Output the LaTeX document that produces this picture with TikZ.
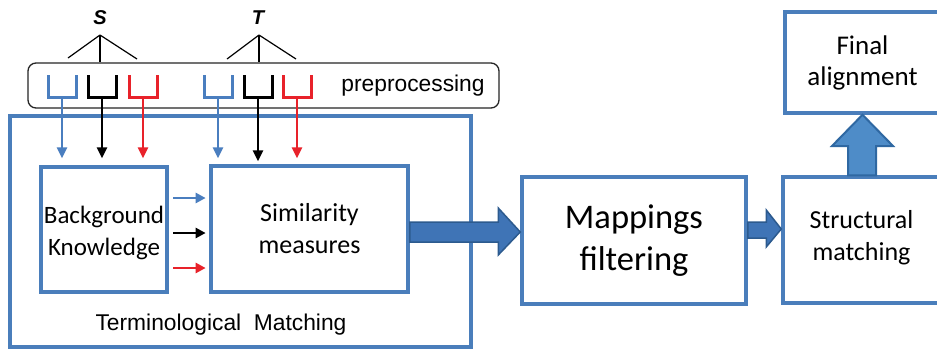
\documentclass[tikz,border=0pt]{standalone}
\usepackage{fontspec}
\setmainfont{Carlito}
\newfontfamily\arialf{Liberation Sans}
\usetikzlibrary{arrows.meta,calc}
\definecolor{boxblue}{HTML}{4A7EBB}
\definecolor{lblue}{HTML}{4A7EBF}
\definecolor{lred}{HTML}{E8222A}
\definecolor{afill}{HTML}{3F74B6}
\definecolor{aedge}{HTML}{2C5A8E}
\definecolor{ufill}{HTML}{4E8CC8}
\definecolor{uedge}{HTML}{2F68A2}
\begin{document}
\begin{tikzpicture}[x=1pt,y=-1pt,
  box/.style={draw=boxblue,line width=3.5pt,rectangle,inner sep=0pt,align=center},
  forkline/.style={line width=3pt},
  feed/.style={line width=2.6pt,-{Triangle[length=11pt,width=10pt]}},
  side/.style={line width=2.5pt,-{Triangle[length=10pt,width=10pt]}},
  bigarrow/.style={fill=afill,draw=aedge,line width=1.5pt,line join=miter},
  uparrow/.style={fill=ufill,draw=uedge,line width=2pt,line join=miter},
  tree/.style={line width=1.2pt},
  arialtxt/.style={font=\arialf\fontsize{22.8}{27}\selectfont,inner sep=0pt}
]
\clip (0,0) rectangle (937,349);
\fill[white] (0,0) rectangle (937,349);

% labels S and T with trees
\node[anchor=base,font=\arialf\bfseries\itshape\fontsize{20}{24}\selectfont,inner sep=0pt] (S) at (100,24) {S};
\node[anchor=base,font=\arialf\bfseries\itshape\fontsize{20}{24}\selectfont,inner sep=0pt] (T) at (258,24) {T};

% preprocessing box
\node[draw=black!85,line width=1.3pt,rounded corners=8pt,minimum width=471pt,minimum height=45pt,inner sep=0pt] (pp) at (263.5,85.5) {};
\node[arialtxt,anchor=base] (pptext) at (413,91) {preprocessing};

\coordinate (Sa) at (100,35);
\coordinate (Ta) at (259,35);
\draw[tree] (Sa) -- (68,58);
\draw[tree] (Sa) -- (Sa |- pp.north);
\draw[tree] (Sa) -- (137,59);
\draw[tree] (Ta) -- (227,59);
\draw[tree] (Ta) -- (Ta |- pp.north);
\draw[tree] (Ta) -- (296,59);

% terminological matching
\node[box,minimum width=461pt,minimum height=231pt] (tm) at (240.5,231.5) {};
\node[arialtxt,anchor=base] (tmtext) at (221,330) {Terminological\ \ Matching};

\node[box,minimum width=126pt,minimum height=125pt,font=\fontsize{25}{32}\selectfont] (bk) at (104,229.5) {\rule{0pt}{0pt}\\[-8pt]Background\\Knowledge};
\node[box,minimum width=197pt,minimum height=126pt,font=\fontsize{26}{32}\selectfont] (sm) at (309.5,229) {Similarity\\measures};

% forks
\foreach \n/\x/\c in {sb/62/lblue, sk/102/black, sr/143/lred, tb/218/lblue, tk/258/black, tr/297/lred}{
  \draw[forkline,draw=\c] (\x-14,75) -- (\x-14,97) -- (\x+14,97) -- (\x+14,75);
  \coordinate (\n) at (\x,96);
}
\draw[feed,lblue,shorten >=7pt] (sb) -- (sb |- bk.north);
\draw[feed,black,shorten >=7pt] (sk) -- (sk |- bk.north);
\draw[feed,lred,shorten >=7pt] (sr) -- (sr |- bk.north);
\draw[feed,lblue,shorten >=6pt] (tb) -- (tb |- sm.north);
\draw[feed,black,shorten >=3pt] (tk) -- (tk |- sm.north);
\draw[feed,lred,shorten >=6pt] (tr) -- (tr |- sm.north);

\foreach \y/\c in {198/lblue,233/black,268/lred}
  \draw[side,\c,shorten <=4.6pt,shorten >=3.6pt] (bk.east |- 0,\y) -- (sm.west |- 0,\y);

% right part
\node[box,minimum width=224pt,minimum height=127pt,font=\fontsize{34.5}{42}\selectfont] (mf) at (634,240.5) {Mappings\\filtering};
\node[box,minimum width=157pt,minimum height=126pt,font=\fontsize{26}{32}\selectfont] (st) at (861.5,240) {Structural\\matching\\[-22pt]\mbox{}};
\node[box,minimum width=155pt,minimum height=101pt,font=\fontsize{27}{31}\selectfont] (fa) at (862.5,62.5) {Final\\alignment};

% big arrows
\draw[bigarrow] (sm.east |- 0,222) -- ($(mf.west |- 0,222)+(-22,0)$) -- ($(mf.west |- 0,208)+(-22,0)$)
  -- (mf.west |- 0,232) -- ($(mf.west |- 0,255)+(-22,0)$) -- ($(mf.west |- 0,242)+(-22,0)$)
  -- (sm.east |- 0,242) -- cycle;
\draw[bigarrow] (mf.east |- 0,222) -- ($(st.west |- 0,222)+(-15,0)$) -- ($(st.west |- 0,210)+(-15,0)$)
  -- (st.west |- 0,229) -- ($(st.west |- 0,247)+(-15,0)$) -- ($(st.west |- 0,238)+(-15,0)$)
  -- (mf.east |- 0,238) -- cycle;
\draw[uparrow] (848,0 |- st.north) -- (848,146) -- (832,146) -- (fa.south) -- (893,146) -- (876,146)
  -- (876,0 |- st.north) -- cycle;
\end{tikzpicture}
\end{document}
